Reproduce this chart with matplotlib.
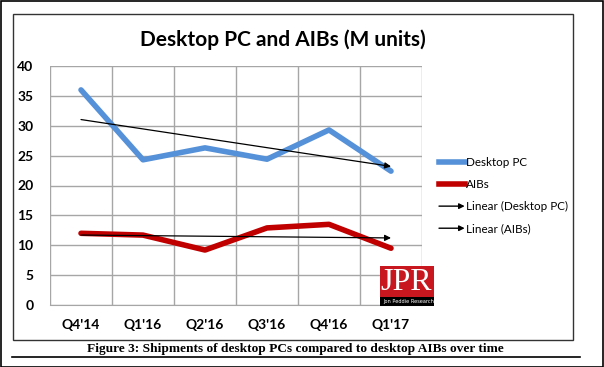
import numpy as np
import matplotlib.pyplot as plt
from matplotlib.patches import Rectangle, FancyArrowPatch
from matplotlib.lines import Line2D
from matplotlib.legend_handler import HandlerBase

# 数据
quarters = ["Q4'14", "Q1'16", "Q2'16", "Q3'16", "Q4'16", "Q1'17"]
desktop_pc = [36.0, 24.3, 26.3, 24.4, 29.3, 22.4]
aibs = [12.0, 11.7, 9.2, 12.9, 13.5, 9.5]

plt.rcParams['font.family'] = ['Lato', 'DejaVu Sans']

fig = plt.figure(figsize=(6.04, 3.67), dpi=100)
W, H = 604, 367

# 外框和图表框
fig.patches.append(Rectangle((0.5 / W, 0.5 / H), 1 - 1.5 / W, 1 - 1.5 / H, transform=fig.transFigure,
                             fill=False, edgecolor='black', linewidth=1.2))
fig.patches.append(Rectangle((13 / W, 1 - 340 / H), 560 / W, 326 / H, transform=fig.transFigure,
                             fill=False, edgecolor='#333333', linewidth=1.0))

ax = fig.add_axes([50 / W, 1 - 305 / H, 372 / W, 239 / H])
x = np.arange(len(quarters))

ax.plot(x, desktop_pc, color='#5591d8', linewidth=4, solid_capstyle='round', label='Desktop PC', zorder=3)
ax.plot(x, aibs, color='#c00000', linewidth=4, solid_capstyle='round', label='AIBs', zorder=3)

# 线性趋势线
for vals in (desktop_pc, aibs):
    k, b = np.polyfit(x, vals, 1)
    y0, y1 = b, k * x[-1] + b
    ax.annotate('', xy=(x[-1], y1), xytext=(x[0], y0),
                arrowprops=dict(arrowstyle='-|>', color='black', lw=0.9, mutation_scale=9,
                                shrinkA=0, shrinkB=0), zorder=4)

ax.set_xlim(-0.5, 5.5)
ax.set_ylim(0, 40)
ax.set_yticks(range(0, 41, 5))
ax.set_xticks(x)
ax.set_xticklabels(quarters)
ax.set_xticks(np.arange(-0.5, 6, 1), minor=True)
ax.grid(which='minor', axis='x', color='#a6a6a6', linewidth=1)
ax.grid(which='major', axis='y', color='#a6a6a6', linewidth=1)
ax.tick_params(which='both', length=0)
ax.tick_params(axis='x', pad=10, labelsize=10)
ax.tick_params(axis='y', pad=12, labelsize=10)
for lab in ax.get_xticklabels() + ax.get_yticklabels():
    lab.set_fontweight('bold')
for s in ax.spines.values():
    s.set_visible(False)
ax.spines['bottom'].set_visible(True)
ax.spines['bottom'].set_color('#a6a6a6')
ax.set_axisbelow(True)


# 图例里的箭头
class ArrowHandler(HandlerBase):
    def create_artists(self, legend, orig, xdescent, ydescent, width, height, fontsize, trans):
        y = height / 2 - ydescent
        a = FancyArrowPatch((-xdescent, y), (width - xdescent, y), arrowstyle='-|>', mutation_scale=8,
                            color='black', lw=1, shrinkA=0, shrinkB=0, transform=trans)
        return [a]


trend1 = Line2D([], [], color='black')
trend2 = Line2D([], [], color='black')
handles = [Line2D([], [], color='#5591d8', lw=4),
           Line2D([], [], color='#c00000', lw=4),
           trend1, trend2]
fig.legend(handles, ['Desktop PC', 'AIBs', 'Linear (Desktop PC)', 'Linear (AIBs)'],
           loc='upper left', bbox_to_anchor=(439 / W, 1 - 157 / H), frameon=False, borderpad=0,
           borderaxespad=0, fontsize=8.4, handlelength=2.2, handletextpad=0.15, labelspacing=0.95,
           handler_map={trend1: ArrowHandler(), trend2: ArrowHandler()})

# 标题
fig.text(283 / W, 1 - 40 / H, 'Desktop PC and AIBs (M units)', ha='center', va='center',
         fontsize=15, fontweight='bold')

# JPR 标志
fig.patches.append(Rectangle((380 / W, 1 - 306 / H), 54 / W, 40 / H, transform=fig.transFigure,
                             facecolor='#c8171e', edgecolor='none', zorder=5))
fig.patches.append(Rectangle((380 / W, 1 - 306 / H), 54 / W, 9 / H, transform=fig.transFigure,
                             facecolor='black', edgecolor='none', zorder=6))
fig.text(406 / W, 1 - 283 / H, 'JPR', ha='center', va='center', color='white',
         fontsize=23, family='Liberation Serif', zorder=7)
fig.text(409 / W, 1 - 301.5 / H, 'Jon Peddie Research', ha='center', va='center', color='white',
         fontsize=3.6, family='Liberation Sans Narrow', zorder=7)

# 说明文字
fig.text(295 / W, 1 - 349 / H, 'Figure 3: Shipments of desktop PCs compared to desktop AIBs over time',
         ha='center', va='center', fontsize=9.6, fontweight='bold', family='Liberation Serif')
fig.add_artist(Line2D([12 / W, 580 / W], [1 - 357 / H, 1 - 357 / H], color='black', lw=1.2))

plt.savefig('out.png', dpi=100)
